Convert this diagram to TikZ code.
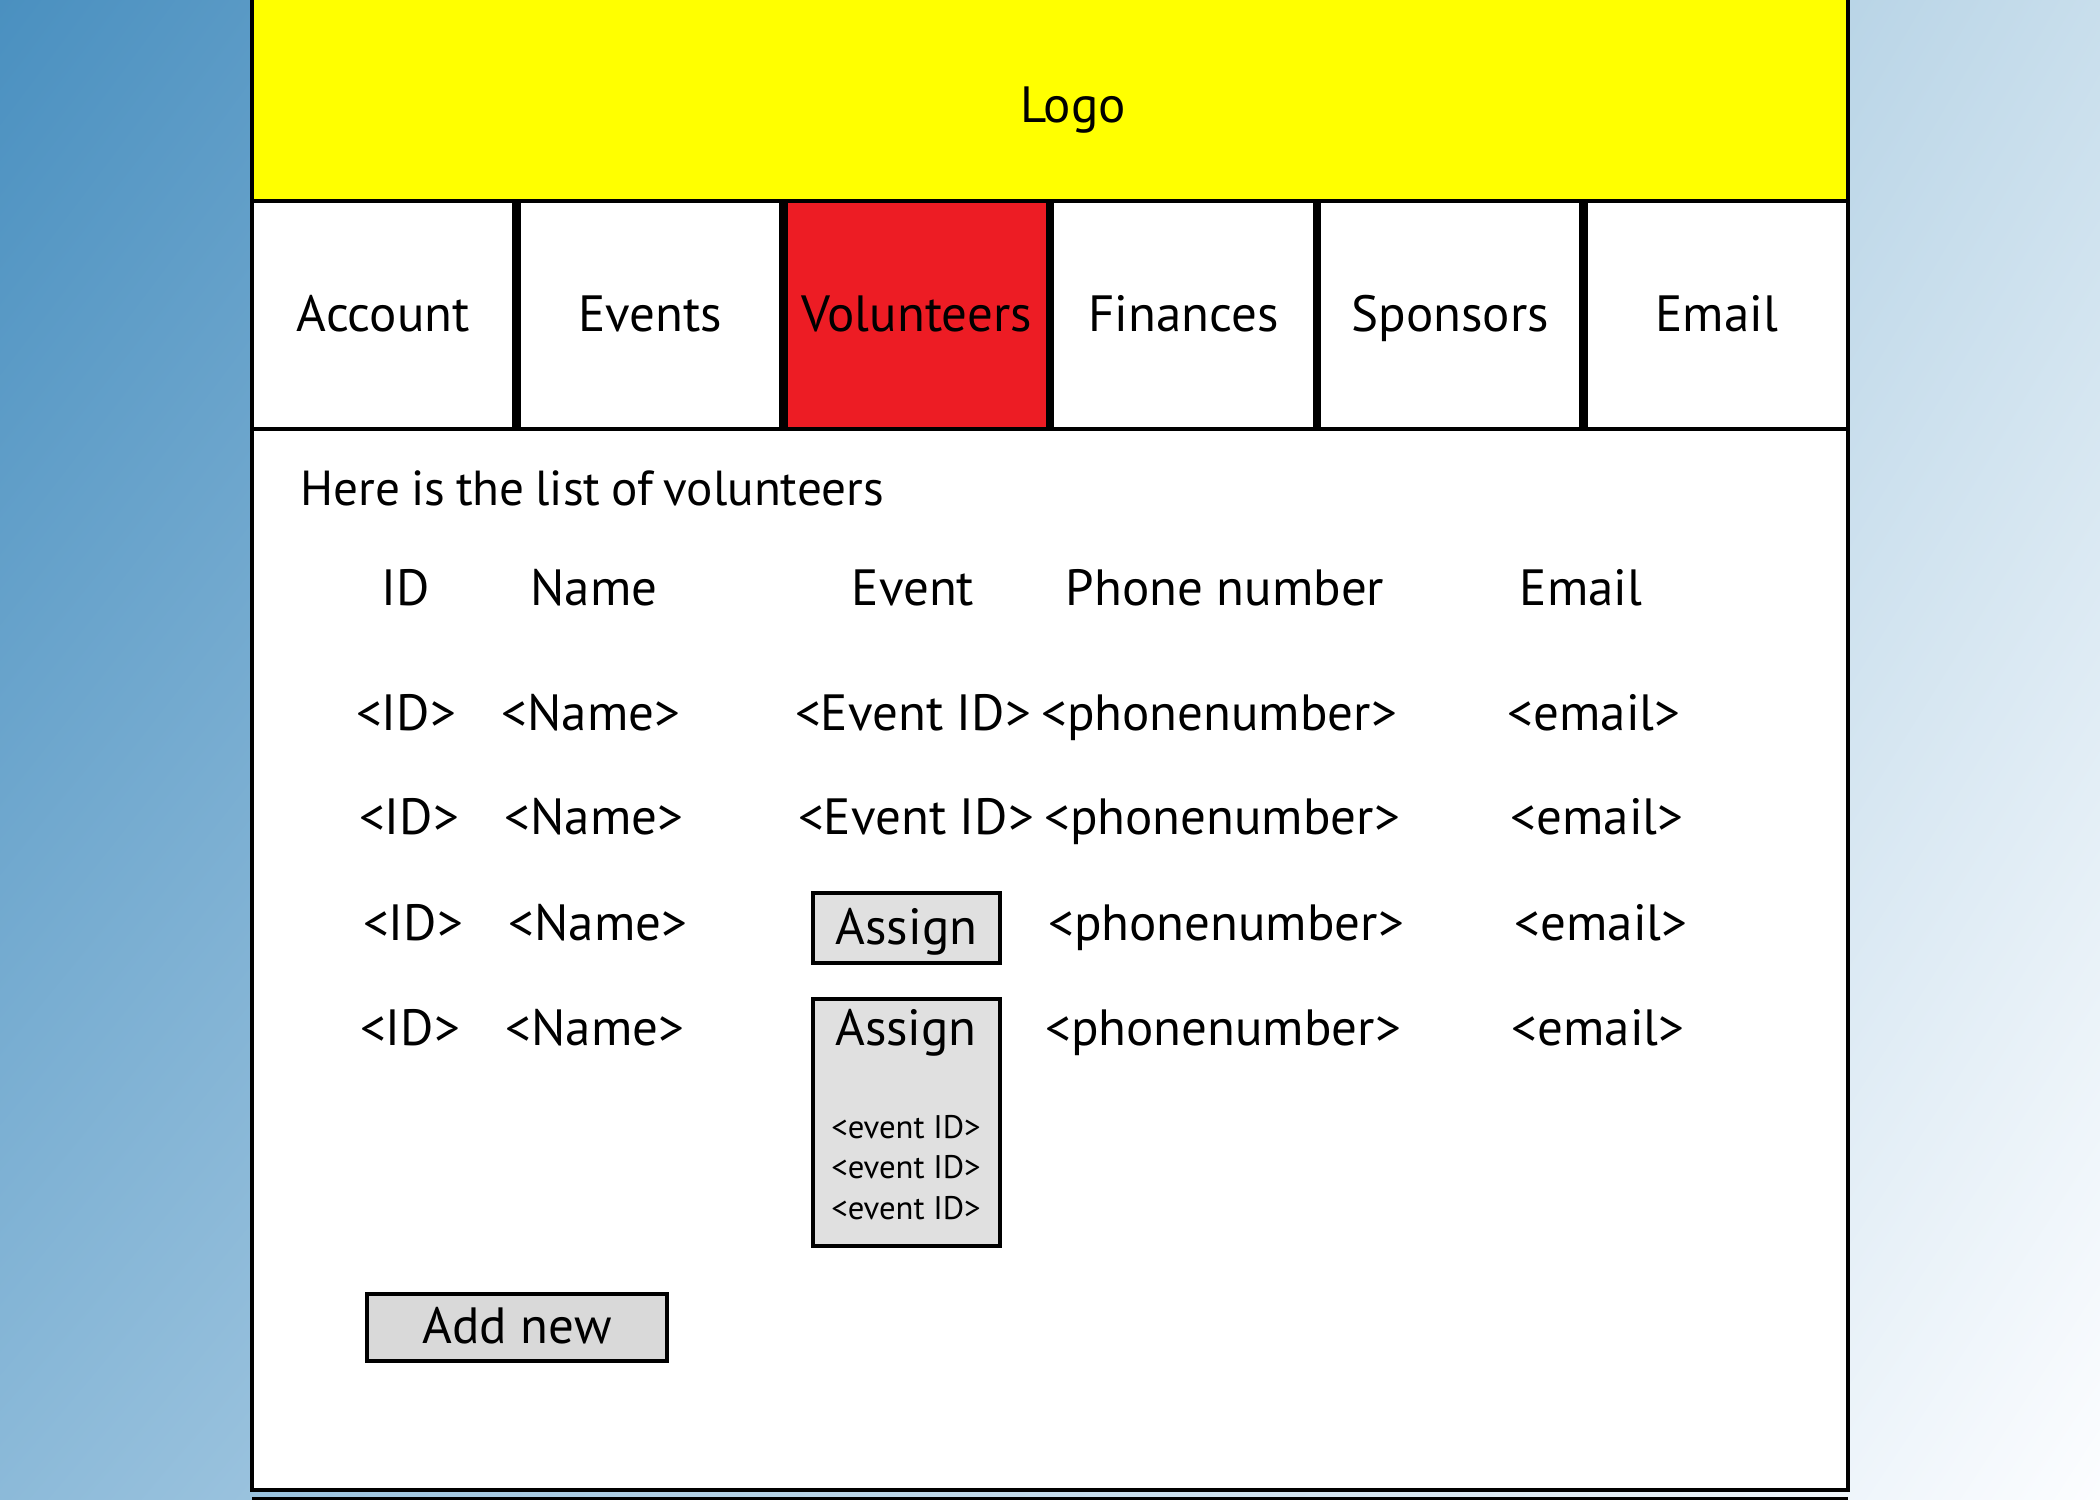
\documentclass[tikz,border=0pt]{standalone}
\usepackage{fontspec}
\setmainfont{PT Sans}
\usepackage{tikz}
\usetikzlibrary{positioning,shadings}

\definecolor{bgA}{RGB}{74,144,192}
\definecolor{bgB}{RGB}{200,222,236}
\definecolor{bgC}{RGB}{140,186,217}
\definecolor{bgD}{RGB}{252,253,255}
\definecolor{logoyellow}{RGB}{255,255,0}
\definecolor{tabred}{RGB}{237,28,36}
\definecolor{assigngray}{RGB}{224,224,224}
\definecolor{addgray}{RGB}{217,217,217}

\tikzset{
	frame/.style={draw,line width=1.2pt,inner sep=0pt,outer sep=0pt},
	txt/.style={inner sep=0pt,text height=0.92em,text depth=0pt,font=\fontsize{14.5}{17}\selectfont},
	tab/.style={frame,txt,fill=white,minimum width=26.25mm,minimum height=22.8mm},
	btn/.style={draw,line width=1.15pt,fill=assigngray,inner sep=0pt}
}

\begin{document}
\begin{tikzpicture}[x=0.1mm,y=-0.1mm]
	\useasboundingbox (0,0) rectangle (2100,1500);
	\shade[upper left=bgA,upper right=bgB,lower left=bgC,lower right=bgD] (0,0) rectangle (2100,1500);
	\node[frame,fill=logoyellow,anchor=north west,minimum width=159.6mm,minimum height=22.1mm] (logo) at (252,-20) {};
	\node[txt] (logotext) at (1073,106) {Logo};
	\node[tab,anchor=north west] (1) at (logo.south west) {Account};
	\node[tab] (2) [right=1.2pt of 1] {Events};
	\node[tab,fill=tabred] (3) [right=1.2pt of 2] {Volunteers};
	\node[tab] (4) [right=1.2pt of 3] {Finances};
	\node[tab] (5) [right=1.2pt of 4] {Sponsors};
	\node[tab] (6) [right=1.2pt of 5] {Email};
	\node[frame,fill=white,anchor=north west,minimum width=159.6mm,minimum height=106.1mm] (body) at (1.south west) {};
	\draw[line width=1.2pt] (body.south west) ++(0,9) -- ++(1596,0);
	\node[txt,anchor=west,font=\fontsize{14}{17}\selectfont] (intro) at (300,489) {\spaceskip=0.22em\relax Here is the list of volunteers};
	\foreach \x/\t [count=\i] in {406/ID,594/Name,913/Event,1225/Phone number,1581/Email}
		\node[txt] (h\i) at (\x,589) {\t};
	\foreach \y/\d [count=\r] in {714/0,818/3,924/7,1029/4}{
		\node[txt] (id\r) at (406+\d,\y) {<ID>};
		\node[txt] (name\r) at (591+\d,\y) {<Name>};
		\node[txt] (phone\r) at (1219+\d,\y) {<phonenumber>};
		\node[txt] (mail\r) at (1594+\d,\y) {<email>};
	}
	\node[txt] (ev1) at (913,714) {<Event ID>};
	\node[txt] (ev2) at (916,818) {<Event ID>};
	\node[btn,txt,minimum width=18.7mm,minimum height=7mm] (as1) at (906.5,928) {Assign};
	\node[btn,minimum width=18.7mm,minimum height=24.7mm] (as2) at (906.5,1122.5) {};
	\node[txt] (as2t) at (906,1029) {Assign};
	\foreach \y [count=\i] in {1122,1162,1203}
		\node[txt,font=\fontsize{9.3}{10}\selectfont] (evid\i) at (906,\y) {<event ID>};
	\node[btn,txt,fill=addgray,minimum width=30mm,minimum height=6.7mm] (add) at (517,1327.5) {Add new};
\end{tikzpicture}
\end{document}
